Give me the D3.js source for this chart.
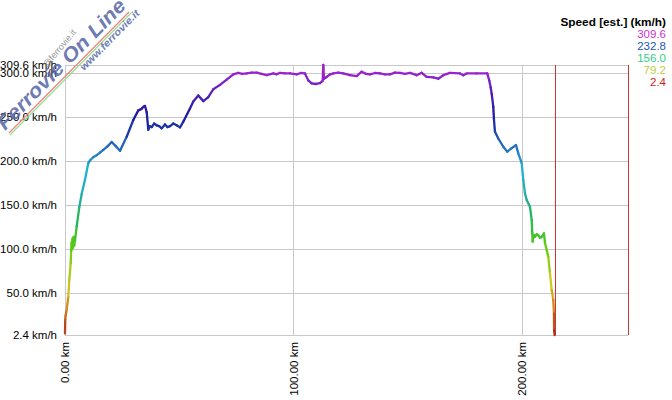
<!DOCTYPE html>
<html>
<head>
<meta charset="utf-8">
<script src="https://cdn.jsdelivr.net/npm/d3@7"></script>
<style>
  html, body { margin: 0; padding: 0; background: #fff; }
  svg { display: block; font-family: "Liberation Sans", Arial, sans-serif; }
</style>
</head>
<body>
<svg id="chart" width="672" height="400"></svg>
<script>
// ---- data ----
const kmValues = [0.0, 0.1, 0.3, 0.74, 1.44, 1.88, 2.49, 2.7, 2.93, 3.1, 3.3, 3.5, 3.8, 4.0, 4.38, 5.12, 6.26, 7.31, 8.75, 10.2, 10.94, 12.5, 13.87, 15.3, 16.76, 18.6, 20.44, 22.3, 24.07, 27.0, 29.89, 32.08, 33.0, 33.57, 34.3, 35.01, 35.76, 36.45, 37.2, 37.94, 39.0, 40.13, 41.2, 42.32, 43.76, 44.8, 45.95, 47.4, 48.88, 50.33, 51.77, 54.7, 56.15, 58.34, 60.53, 62.71, 64.9, 67.83, 70.77, 73.65, 75.84, 77.6, 79.52, 81.7, 83.9, 86.0, 88.27, 91.16, 92.6, 94.09, 96.3, 98.47, 101.4, 103.2, 105.03, 106.48, 107.97, 109.8, 111.6, 112.78, 113.04, 113.35, 114.53, 116.0, 117.42, 119.6, 121.8, 124.7, 127.66, 129.85, 131.7, 133.48, 135.7, 137.86, 140.0, 142.23, 144.4, 146.61, 148.8, 150.98, 153.92, 156.11, 158.29, 161.18, 163.37, 165.56, 168.49, 172.87, 174.31, 175.8, 180.0, 184.81, 185.69, 186.3, 186.74, 187.44, 187.75, 188.18, 189.63, 191.82, 193.57, 195.49, 197.37, 198.38, 199.87, 200.57, 201.31, 202.06, 203.5, 204.25, 204.51, 204.68, 205.2, 205.69, 206.4, 207.13, 207.9, 208.62, 209.63, 210.07, 211.5, 212.25, 212.99, 213.7, 214.0, 214.05, 214.3];
const speedValues = [4, 20, 25, 31, 46, 65, 84, 98, 108, 100, 112, 102, 114, 104, 110, 126, 148, 163, 179, 198, 201, 205, 207, 210, 213, 217, 222, 217, 212, 228, 247, 258, 259, 260, 262, 263, 256, 236, 240, 239, 243, 241, 240, 237.5, 242, 239, 240, 243, 241, 238.6, 245, 260, 268, 275, 268.5, 273, 282, 287, 293, 299, 300.7, 299.5, 300, 301, 301, 299.5, 298, 300, 299, 300.7, 300, 300, 299, 300.5, 300, 292, 288.6, 288, 289, 291.6, 309.6, 294, 296, 299, 300, 301, 300, 298, 297, 302, 299.5, 299, 300.5, 300, 299, 299, 301, 300.7, 299.5, 300.7, 298, 300.7, 296, 295.5, 294, 298, 300.7, 300, 298, 300, 300, 300, 292, 284, 277, 262, 247, 233.6, 226, 216.6, 211, 215, 218.5, 209, 198, 179, 163.6, 156, 148.4, 133, 118, 108.6, 116, 114, 117, 116, 113, 114, 118, 107, 91.6, 72.7, 53.8, 42.4, 27, 8, 2.4];
const yTickValues = [2.4, 50, 100, 150, 200, 250, 300, 309.6];
const xTickValues = [0, 100, 200];
const endKm = 214.4;
const legendTitle = "Speed [est.] (km/h)";
const legendValues = [309.6, 232.8, 156.0, 79.2, 2.4];
const legendColors = ["#cc33cc", "#2255bb", "#33cc88", "#bbcc44", "#cc2222"];
const colorStops = [2.4, 30, 60, 100, 130, 160, 185, 215, 250, 280, 300, 309.6];
const colorRange = ["#a82818", "#d07a1a", "#d4cc20", "#66cc10", "#22bb44", "#22aaaa", "#22b8d0", "#2470c0", "#1a1a9a", "#5a20c0", "#9922cc", "#bb22cc"];

// ---- layout ----
const svg = d3.select("#chart");
const L = 65, R = 628, T = 65, B = 335;
const x = d3.scaleLinear().domain([0, 246.4]).range([L, R]);
const y = d3.scaleLinear().domain([2.4, 309.6]).range([B, T]);
const color = d3.scaleLinear().domain(colorStops).range(colorRange).clamp(true);
const gridColor = "#c8c8c8";

// horizontal gridlines
svg.append("g").selectAll("line").data(yTickValues).join("line")
  .attr("x1", L).attr("x2", R)
  .attr("y1", d => Math.round(y(d)) + 0.5).attr("y2", d => Math.round(y(d)) + 0.5)
  .attr("stroke", gridColor).attr("stroke-width", 1);

// vertical gridlines
svg.append("g").selectAll("line").data(xTickValues).join("line")
  .attr("x1", d => Math.round(x(d)) + 0.5).attr("x2", d => Math.round(x(d)) + 0.5)
  .attr("y1", T).attr("y2", B)
  .attr("stroke", gridColor).attr("stroke-width", 1);

// right border and end-of-line marker (red)
svg.append("line").attr("x1", R + 0.5).attr("x2", R + 0.5).attr("y1", T).attr("y2", B)
  .attr("stroke", "#cc3333").attr("stroke-width", 1);
svg.append("line").attr("x1", Math.round(x(endKm)) + 0.5).attr("x2", Math.round(x(endKm)) + 0.5)
  .attr("y1", T).attr("y2", B)
  .attr("stroke", "#cc3333").attr("stroke-width", 1);

// y tick labels
svg.append("g").selectAll("text").data(yTickValues).join("text")
  .attr("x", 57).attr("y", d => y(d)).attr("dy", "0.35em")
  .attr("text-anchor", "end").attr("font-size", 11.5).attr("fill", "#000")
  .text(d => d3.format(".1f")(d) + " km/h");

// x tick labels (rotated)
svg.append("g").selectAll("text").data(xTickValues).join("text")
  .attr("transform", d => `translate(${x(d)},342) rotate(-90)`)
  .attr("dy", "0.35em")
  .attr("text-anchor", "end").attr("font-size", 11.5).attr("fill", "#000")
  .text(d => d3.format(".2f")(d) + " km");

// speed line, coloured by speed
const pts = kmValues.map((k, i) => [k, speedValues[i]]);
const segs = d3.pairs(pts);
svg.append("g").selectAll("line").data(segs).join("line")
  .attr("x1", d => x(d[0][0])).attr("y1", d => y(d[0][1]))
  .attr("x2", d => x(d[1][0])).attr("y2", d => y(d[1][1]))
  .attr("stroke", d => color((d[0][1] + d[1][1]) / 2))
  .attr("stroke-width", 2.3).attr("stroke-linecap", "round");

// legend
svg.append("text").attr("x", 666).attr("y", 21.5).attr("dy", "0.35em")
  .attr("text-anchor", "end").attr("font-size", 11.8).attr("font-weight", "bold")
  .attr("fill", "#000").text(legendTitle);
svg.append("g").selectAll("text").data(legendValues).join("text")
  .attr("x", 666).attr("y", (d, i) => 33.5 + i * 12.1).attr("dy", "0.35em")
  .attr("text-anchor", "end").attr("font-size", 11.5)
  .attr("fill", (d, i) => legendColors[i])
  .text(d => d3.format(".1f")(d));

// watermark
const wm = svg.append("g").attr("pointer-events", "none");
wm.append("line").attr("x1", 9).attr("y1", 133).attr("x2", 129).attr("y2", 12)
  .attr("stroke", "#f08080").attr("stroke-width", 1.2);
wm.append("line").attr("x1", 10).attr("y1", 135).attr("x2", 131).attr("y2", 13)
  .attr("stroke", "#90e090").attr("stroke-width", 1.2);
wm.append("text").attr("transform", "translate(47,68) rotate(-50)")
  .attr("font-size", 9).attr("fill", "#8a8a8a").attr("opacity", 0.9).text("@ferrovie.it");
wm.append("text").attr("transform", "translate(5,131) rotate(-45.5)")
  .attr("font-size", 20).attr("font-weight", "bold").attr("font-style", "italic")
  .attr("fill", "#5565a8").attr("opacity", 0.85)
  .attr("textLength", 174).attr("lengthAdjust", "spacingAndGlyphs")
  .text("Ferrovie On Line");
wm.append("text").attr("transform", "translate(84,71) rotate(-45.5)")
  .attr("font-size", 10).attr("font-weight", "bold").attr("font-style", "italic")
  .attr("fill", "#5565a8").attr("opacity", 0.85)
  .attr("textLength", 80).attr("lengthAdjust", "spacingAndGlyphs")
  .text("www.ferrovie.it");
</script>
</body>
</html>
